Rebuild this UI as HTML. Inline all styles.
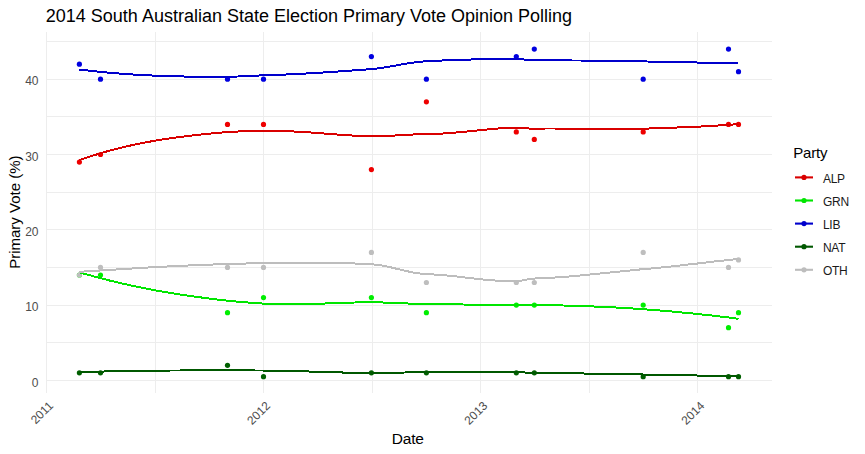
<!DOCTYPE html><html><head><meta charset="utf-8"><style>html,body{margin:0;padding:0;background:#fff;width:865px;height:454px;overflow:hidden}svg{display:block}text{font-family:"Liberation Sans",sans-serif}</style></head><body>
<svg width="865" height="454" viewBox="0 0 865 454">
<rect width="865" height="454" fill="#fff"/>
<rect x="47" y="41" width="725" height="1" fill="#EDEDED"/><rect x="47" y="79" width="725" height="1" fill="#EDEDED"/><rect x="47" y="116" width="725" height="1" fill="#EDEDED"/><rect x="47" y="154" width="725" height="1" fill="#EDEDED"/><rect x="47" y="192" width="725" height="1" fill="#EDEDED"/><rect x="47" y="229" width="725" height="1" fill="#EDEDED"/><rect x="47" y="267" width="725" height="1" fill="#EDEDED"/><rect x="47" y="305" width="725" height="1" fill="#EDEDED"/><rect x="47" y="342" width="725" height="1" fill="#EDEDED"/><rect x="47" y="380" width="725" height="1" fill="#EDEDED"/><rect x="46" y="32" width="1" height="361" fill="#EDEDED"/><rect x="155" y="32" width="1" height="361" fill="#EDEDED"/><rect x="263" y="32" width="1" height="361" fill="#EDEDED"/><rect x="372" y="32" width="1" height="361" fill="#EDEDED"/><rect x="480" y="32" width="1" height="361" fill="#EDEDED"/><rect x="589" y="32" width="1" height="361" fill="#EDEDED"/><rect x="697" y="32" width="1" height="361" fill="#EDEDED"/>
<circle cx="79.4" cy="162.03" r="2.6" fill="#EE0000"/><circle cx="100.5" cy="154.50" r="2.6" fill="#EE0000"/><circle cx="227.5" cy="124.38" r="2.6" fill="#EE0000"/><circle cx="263.5" cy="124.38" r="2.6" fill="#EE0000"/><circle cx="371.4" cy="169.56" r="2.6" fill="#EE0000"/><circle cx="426.4" cy="101.79" r="2.6" fill="#EE0000"/><circle cx="516.3" cy="131.91" r="2.6" fill="#EE0000"/><circle cx="534.3" cy="139.44" r="2.6" fill="#EE0000"/><circle cx="643.2" cy="131.91" r="2.6" fill="#EE0000"/><circle cx="728.5" cy="124.38" r="2.6" fill="#EE0000"/><circle cx="738.5" cy="124.38" r="2.6" fill="#EE0000"/>
<circle cx="79.4" cy="274.98" r="2.6" fill="#00EE00"/><circle cx="100.5" cy="274.98" r="2.6" fill="#00EE00"/><circle cx="227.5" cy="312.63" r="2.6" fill="#00EE00"/><circle cx="263.5" cy="297.57" r="2.6" fill="#00EE00"/><circle cx="371.4" cy="297.57" r="2.6" fill="#00EE00"/><circle cx="426.4" cy="312.63" r="2.6" fill="#00EE00"/><circle cx="516.3" cy="305.10" r="2.6" fill="#00EE00"/><circle cx="534.3" cy="305.10" r="2.6" fill="#00EE00"/><circle cx="643.2" cy="305.10" r="2.6" fill="#00EE00"/><circle cx="728.5" cy="327.69" r="2.6" fill="#00EE00"/><circle cx="738.5" cy="312.63" r="2.6" fill="#00EE00"/>
<circle cx="79.4" cy="64.14" r="2.6" fill="#0000E0"/><circle cx="100.5" cy="79.20" r="2.6" fill="#0000E0"/><circle cx="227.5" cy="79.20" r="2.6" fill="#0000E0"/><circle cx="263.5" cy="79.20" r="2.6" fill="#0000E0"/><circle cx="371.4" cy="56.61" r="2.6" fill="#0000E0"/><circle cx="426.4" cy="79.20" r="2.6" fill="#0000E0"/><circle cx="516.3" cy="56.61" r="2.6" fill="#0000E0"/><circle cx="534.3" cy="49.08" r="2.6" fill="#0000E0"/><circle cx="643.2" cy="79.20" r="2.6" fill="#0000E0"/><circle cx="728.5" cy="49.08" r="2.6" fill="#0000E0"/><circle cx="738.5" cy="71.67" r="2.6" fill="#0000E0"/>
<circle cx="79.4" cy="372.87" r="2.6" fill="#006000"/><circle cx="100.5" cy="372.87" r="2.6" fill="#006000"/><circle cx="227.5" cy="365.34" r="2.6" fill="#006000"/><circle cx="263.5" cy="376.63" r="2.6" fill="#006000"/><circle cx="371.4" cy="372.87" r="2.6" fill="#006000"/><circle cx="426.4" cy="372.87" r="2.6" fill="#006000"/><circle cx="516.3" cy="372.87" r="2.6" fill="#006000"/><circle cx="534.3" cy="372.87" r="2.6" fill="#006000"/><circle cx="643.2" cy="376.63" r="2.6" fill="#006000"/><circle cx="728.5" cy="376.63" r="2.6" fill="#006000"/><circle cx="738.5" cy="376.63" r="2.6" fill="#006000"/>
<circle cx="79.4" cy="274.98" r="2.6" fill="#BEBEBE"/><circle cx="100.5" cy="267.45" r="2.6" fill="#BEBEBE"/><circle cx="227.5" cy="267.45" r="2.6" fill="#BEBEBE"/><circle cx="263.5" cy="267.45" r="2.6" fill="#BEBEBE"/><circle cx="371.4" cy="252.39" r="2.6" fill="#BEBEBE"/><circle cx="426.4" cy="282.51" r="2.6" fill="#BEBEBE"/><circle cx="516.3" cy="282.51" r="2.6" fill="#BEBEBE"/><circle cx="534.3" cy="282.51" r="2.6" fill="#BEBEBE"/><circle cx="643.2" cy="252.39" r="2.6" fill="#BEBEBE"/><circle cx="728.5" cy="267.45" r="2.6" fill="#BEBEBE"/><circle cx="738.5" cy="259.92" r="2.6" fill="#BEBEBE"/>
<polyline points="79.4,160.0 87.7,157.2 96.1,154.6 104.4,152.1 112.8,149.8 121.1,147.7 129.5,145.7 137.8,144.0 146.1,142.3 154.5,140.8 162.8,139.4 171.2,138.2 179.5,137.0 187.9,136.0 196.2,135.0 204.5,134.1 212.9,133.3 221.2,132.6 229.6,131.9 237.9,131.5 246.3,131.4 254.6,131.3 262.9,131.1 271.3,130.9 279.6,131.0 288.0,131.2 296.3,131.6 304.7,132.1 313.0,132.6 321.3,133.3 329.7,134.0 338.0,134.6 346.4,135.2 354.7,135.7 363.1,136.0 371.4,136.2 379.7,136.2 388.1,135.9 396.4,135.4 404.8,134.9 413.1,134.5 421.5,134.1 429.8,134.0 438.2,133.8 446.5,133.3 454.8,132.6 463.2,131.9 471.5,131.0 479.9,130.2 488.2,129.4 496.6,128.6 504.9,128.1 513.2,127.7 521.6,127.8 529.9,128.6 538.3,128.6 546.6,128.5 555.0,128.5 563.3,128.6 571.6,128.6 580.0,128.7 588.3,128.9 596.7,129.0 605.0,129.1 613.4,129.1 621.7,129.1 630.0,129.1 638.4,128.9 646.7,128.6 655.1,128.3 663.4,128.0 671.8,127.7 680.1,127.4 688.4,127.1 696.8,126.7 705.1,126.3 713.5,125.8 721.8,125.3 730.2,124.7 738.5,124.1" fill="none" stroke="#D90000" stroke-width="2" stroke-linejoin="round" shape-rendering="crispEdges"/>
<polyline points="79.4,272.4 87.7,274.7 96.1,277.0 104.4,279.2 112.8,281.3 121.1,283.3 129.5,285.1 137.8,286.9 146.1,288.6 154.5,290.2 162.8,291.7 171.2,293.1 179.5,294.4 187.9,295.7 196.2,296.8 204.5,297.9 212.9,299.0 221.2,300.0 229.6,300.9 237.9,301.7 246.3,302.4 254.6,303.0 262.9,303.6 271.3,304.0 279.6,304.3 288.0,304.4 296.3,304.4 304.7,304.2 313.0,304.0 321.3,303.7 329.7,303.3 338.0,303.0 346.4,302.7 354.7,302.5 363.1,302.3 371.4,302.3 379.7,302.4 388.1,302.7 396.4,303.0 404.8,303.4 413.1,303.7 421.5,304.0 429.8,304.1 438.2,304.2 446.5,304.3 454.8,304.4 463.2,304.5 471.5,304.7 479.9,304.8 488.2,304.9 496.6,305.1 504.9,305.2 513.2,305.3 521.6,305.2 529.9,304.9 538.3,304.9 546.6,305.1 555.0,305.3 563.3,305.5 571.6,305.8 580.0,306.0 588.3,306.3 596.7,306.6 605.0,307.0 613.4,307.4 621.7,307.8 630.0,308.3 638.4,308.9 646.7,309.5 655.1,310.1 663.4,310.8 671.8,311.5 680.1,312.3 688.4,313.1 696.8,313.9 705.1,314.8 713.5,315.7 721.8,316.7 730.2,317.7 738.5,318.8" fill="none" stroke="#00E600" stroke-width="2" stroke-linejoin="round" shape-rendering="crispEdges"/>
<polyline points="79.4,69.5 87.7,70.5 96.1,71.4 104.4,72.3 112.8,73.0 121.1,73.7 129.5,74.3 137.8,74.8 146.1,75.3 154.5,75.6 162.8,76.0 171.2,76.2 179.5,76.4 187.9,76.6 196.2,76.7 204.5,76.7 212.9,76.7 221.2,76.7 229.6,76.7 237.9,76.5 246.3,76.1 254.6,75.7 262.9,75.3 271.3,75.1 279.6,74.8 288.0,74.4 296.3,74.0 304.7,73.6 313.0,73.1 321.3,72.6 329.7,72.1 338.0,71.5 346.4,70.9 354.7,70.3 363.1,69.7 371.4,69.1 379.7,68.2 388.1,66.9 396.4,65.4 404.8,63.9 413.1,62.6 421.5,61.6 429.8,61.1 438.2,60.7 446.5,60.3 454.8,60.0 463.2,59.7 471.5,59.5 479.9,59.3 488.2,59.1 496.6,59.0 504.9,58.9 513.2,58.9 521.6,59.2 529.9,60.1 538.3,60.3 546.6,60.3 555.0,60.3 563.3,60.4 571.6,60.5 580.0,60.5 588.3,60.7 596.7,60.8 605.0,60.9 613.4,61.0 621.7,61.1 630.0,61.3 638.4,61.4 646.7,61.5 655.1,61.6 663.4,61.8 671.8,62.0 680.1,62.1 688.4,62.3 696.8,62.5 705.1,62.7 713.5,62.9 721.8,63.0 730.2,63.2 738.5,63.3" fill="none" stroke="#0000CC" stroke-width="2" stroke-linejoin="round" shape-rendering="crispEdges"/>
<polyline points="79.4,372.1 87.7,371.9 96.1,371.7 104.4,371.5 112.8,371.3 121.1,371.1 129.5,371.0 137.8,370.9 146.1,370.7 154.5,370.7 162.8,370.6 171.2,370.5 179.5,370.5 187.9,370.4 196.2,370.4 204.5,370.4 212.9,370.4 221.2,370.4 229.6,370.4 237.9,370.4 246.3,370.4 254.6,370.5 262.9,370.5 271.3,370.6 279.6,370.8 288.0,370.9 296.3,371.2 304.7,371.4 313.0,371.6 321.3,371.9 329.7,372.2 338.0,372.4 346.4,372.6 354.7,372.8 363.1,373.0 371.4,373.1 379.7,373.1 388.1,372.9 396.4,372.8 404.8,372.5 413.1,372.4 421.5,372.3 429.8,372.3 438.2,372.3 446.5,372.3 454.8,372.3 463.2,372.3 471.5,372.2 479.9,372.2 488.2,372.2 496.6,372.2 504.9,372.2 513.2,372.3 521.6,372.4 529.9,372.7 538.3,372.8 546.6,372.9 555.0,373.0 563.3,373.1 571.6,373.3 580.0,373.4 588.3,373.6 596.7,373.7 605.0,373.9 613.4,374.0 621.7,374.1 630.0,374.3 638.4,374.4 646.7,374.6 655.1,374.7 663.4,374.9 671.8,375.0 680.1,375.2 688.4,375.3 696.8,375.5 705.1,375.7 713.5,375.8 721.8,376.0 730.2,376.1 738.5,376.3" fill="none" stroke="#005800" stroke-width="2" stroke-linejoin="round" shape-rendering="crispEdges"/>
<polyline points="79.4,271.8 87.7,271.3 96.1,270.8 104.4,270.2 112.8,269.7 121.1,269.2 129.5,268.7 137.8,268.1 146.1,267.6 154.5,267.2 162.8,266.7 171.2,266.3 179.5,265.8 187.9,265.5 196.2,265.1 204.5,264.8 212.9,264.5 221.2,264.2 229.6,264.0 237.9,263.8 246.3,263.5 254.6,263.3 262.9,263.2 271.3,263.1 279.6,263.0 288.0,262.9 296.3,262.9 304.7,262.8 313.0,262.8 321.3,262.8 329.7,262.9 338.0,263.0 346.4,263.2 354.7,263.5 363.1,263.8 371.4,264.2 379.7,265.1 388.1,266.7 396.4,268.7 404.8,270.7 413.1,272.5 421.5,273.7 429.8,274.2 438.2,274.8 446.5,275.5 454.8,276.3 463.2,277.3 471.5,278.2 479.9,279.2 488.2,280.0 496.6,280.6 504.9,281.1 513.2,281.2 521.6,280.6 529.9,278.8 538.3,278.3 546.6,277.9 555.0,277.5 563.3,276.9 571.6,276.3 580.0,275.5 588.3,274.7 596.7,273.9 605.0,273.0 613.4,272.2 621.7,271.3 630.0,270.5 638.4,269.6 646.7,268.9 655.1,268.1 663.4,267.3 671.8,266.4 680.1,265.5 688.4,264.5 696.8,263.6 705.1,262.6 713.5,261.6 721.8,260.7 730.2,259.8 738.5,258.9" fill="none" stroke="#BDBDBD" stroke-width="2" stroke-linejoin="round" shape-rendering="crispEdges"/>
<text x="45.8" y="21.8" font-size="18" fill="#000">2014 South Australian State Election Primary Vote Opinion Polling</text>
<text x="38.5" y="386.60" font-size="12" fill="#4D4D4D" text-anchor="end">0</text>
<text x="38.5" y="311.30" font-size="12" fill="#4D4D4D" text-anchor="end">10</text>
<text x="38.5" y="236.00" font-size="12" fill="#4D4D4D" text-anchor="end">20</text>
<text x="38.5" y="160.70" font-size="12" fill="#4D4D4D" text-anchor="end">30</text>
<text x="38.5" y="85.40" font-size="12" fill="#4D4D4D" text-anchor="end">40</text>
<text transform="translate(19.8,212.2) rotate(-90)" font-size="15" fill="#000" text-anchor="middle">Primary Vote (%)</text>
<text transform="translate(53.9,406.5) rotate(-45)" font-size="12" fill="#4D4D4D" text-anchor="end">2011</text>
<text transform="translate(271.0,406.5) rotate(-45)" font-size="12" fill="#4D4D4D" text-anchor="end">2012</text>
<text transform="translate(488.2,406.5) rotate(-45)" font-size="12" fill="#4D4D4D" text-anchor="end">2013</text>
<text transform="translate(705.1,406.5) rotate(-45)" font-size="12" fill="#4D4D4D" text-anchor="end">2014</text>
<text x="407.7" y="444.2" font-size="15.5" letter-spacing="-0.2" fill="#000" text-anchor="middle">Date</text>
<text x="793.2" y="157.7" font-size="15" letter-spacing="-0.15" fill="#000">Party</text>
<line x1="795" y1="177.4" x2="813" y2="177.4" stroke="#D90000" stroke-width="2.1"/><circle cx="804" cy="177.4" r="2.6" fill="#D90000"/>
<text x="823" y="182.6" font-size="12" letter-spacing="-0.3" fill="#1A1A1A">ALP</text>
<line x1="795" y1="200.5" x2="813" y2="200.5" stroke="#00E600" stroke-width="2.1"/><circle cx="804" cy="200.5" r="2.6" fill="#00E600"/>
<text x="823" y="205.7" font-size="12" letter-spacing="-0.3" fill="#1A1A1A">GRN</text>
<line x1="795" y1="223.60000000000002" x2="813" y2="223.60000000000002" stroke="#0000CC" stroke-width="2.1"/><circle cx="804" cy="223.60000000000002" r="2.6" fill="#0000CC"/>
<text x="823" y="228.8" font-size="12" letter-spacing="-0.3" fill="#1A1A1A">LIB</text>
<line x1="795" y1="246.70000000000002" x2="813" y2="246.70000000000002" stroke="#005800" stroke-width="2.1"/><circle cx="804" cy="246.70000000000002" r="2.6" fill="#005800"/>
<text x="823" y="251.9" font-size="12" letter-spacing="-0.3" fill="#1A1A1A">NAT</text>
<line x1="795" y1="269.8" x2="813" y2="269.8" stroke="#BDBDBD" stroke-width="2.1"/><circle cx="804" cy="269.8" r="2.6" fill="#BDBDBD"/>
<text x="823" y="275.0" font-size="12" letter-spacing="-0.3" fill="#1A1A1A">OTH</text>
</svg></body></html>
